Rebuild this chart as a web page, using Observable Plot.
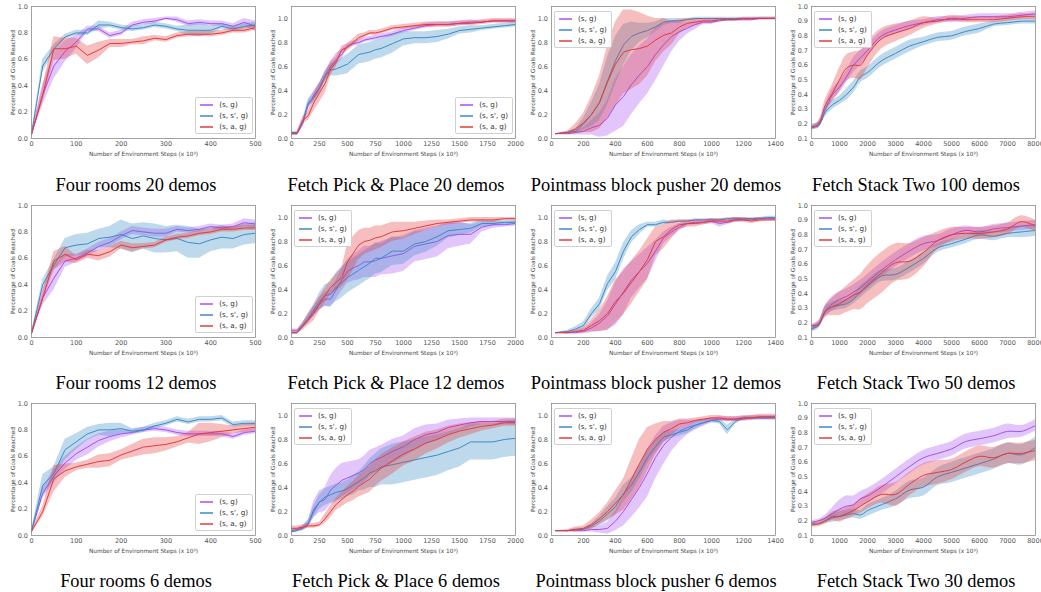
<!DOCTYPE html>
<html><head><meta charset="utf-8">
<script src="https://cdn.jsdelivr.net/npm/d3@7"></script>
<script src="https://cdn.jsdelivr.net/npm/@observablehq/plot@0.6"></script>
<style>
body{margin:0;background:#fff;}
#fig{position:relative;width:1041px;height:592px;overflow:hidden;background:#fff;}
.panel{position:absolute;width:260px;height:160px;}
.panel > svg{overflow:visible;}
.cap{position:absolute;width:300px;text-align:center;font-family:"Liberation Serif","Times New Roman",serif;font-size:18.4px;line-height:20px;color:#000;}
.legend{position:absolute;background:rgba(255,255,255,0.85);border:0.8px solid #d0d0d0;border-radius:2px;padding:1px 4px;font-family:"DejaVu Sans",sans-serif;font-size:7.2px;color:#333;}
.legend div{height:11px;line-height:11px;white-space:nowrap;display:flex;align-items:center;}
.legend svg.sw{display:block;width:13px;height:4px;margin-right:6px;overflow:visible;}
</style></head>
<body><div id="fig"></div>
<script>
// ---------- shared categories / ticks ----------
const seriesNames = ["(s, g)", "(s, s', g)", "(s, a, g)"];
const xLabel = "Number of Environment Steps (x 10\u00b3)";
const yLabel = "Percentage of Goals Reached";

const fourRoomsX = [0,25,50,75,100,125,150,175,200,225,250,275,300,325,350,375,400,425,450,475,500];
const fetchPPX = [0,50,100,150,200,250,300,350,400,450,500,550,600,650,700,750,800,900,1000,1100,1200,1300,1400,1500,1600,1700,1800,1900,2000];
const pointmassX = [25,100,150,200,250,300,350,400,450,500,550,600,650,700,750,800,850,900,950,1000,1050,1100,1150,1200,1250,1300,1350,1400];
const fetchStackX = [0,250,500,750,1000,1250,1500,1750,2000,2500,3000,3500,4000,4500,5000,5500,6000,6500,7000,7500,8000];

const fourRoomsXTicks = [0,100,200,300,400,500];
const fetchPPXTicks = [0,250,500,750,1000,1250,1500,1750,2000];
const pointmassXTicks = [0,200,400,600,800,1000,1200,1400];
const fetchStackXTicks = [0,1000,2000,3000,4000,5000,6000,7000,8000];
const yTicks01 = [0,0.2,0.4,0.6,0.8,1.0];
const yTicksStack = [0.1,0.2,0.3,0.4,0.5,0.6,0.7,0.8,0.9,1.0];

// ---------- Four rooms 20 demos ----------
const fourRooms20_sg    = [0.03,0.33,0.55,0.66,0.73,0.83,0.83,0.78,0.80,0.86,0.88,0.89,0.91,0.90,0.87,0.88,0.87,0.87,0.85,0.88,0.85];
const fourRooms20_sg_sd = [0.01,0.08,0.10,0.08,0.05,0.02,0.02,0.02,0.02,0.02,0.02,0.02,0.01,0.02,0.02,0.02,0.02,0.02,0.02,0.03,0.04];
const fourRooms20_ssg    = [0.03,0.55,0.68,0.77,0.80,0.80,0.86,0.86,0.84,0.83,0.84,0.86,0.85,0.83,0.82,0.82,0.82,0.85,0.83,0.85,0.86];
const fourRooms20_ssg_sd = [0.01,0.05,0.03,0.02,0.02,0.02,0.03,0.02,0.02,0.02,0.02,0.02,0.02,0.02,0.04,0.05,0.03,0.02,0.02,0.02,0.02];
const fourRooms20_sag    = [0.03,0.33,0.68,0.68,0.70,0.63,0.67,0.72,0.72,0.73,0.74,0.76,0.75,0.78,0.79,0.79,0.79,0.80,0.82,0.82,0.84];
const fourRooms20_sag_sd = [0.01,0.06,0.09,0.08,0.06,0.07,0.06,0.03,0.03,0.02,0.03,0.02,0.02,0.02,0.02,0.02,0.02,0.02,0.02,0.02,0.02];

// ---------- Fetch Pick & Place 20 demos ----------
const fetchPP20_sg    = [0.04,0.04,0.12,0.28,0.36,0.42,0.52,0.60,0.66,0.70,0.77,0.79,0.80,0.82,0.83,0.84,0.85,0.87,0.90,0.92,0.94,0.95,0.95,0.96,0.97,0.97,0.98,0.98,0.98];
const fetchPP20_sg_sd = [0.01,0.01,0.02,0.03,0.04,0.04,0.04,0.04,0.05,0.04,0.02,0.02,0.02,0.02,0.02,0.02,0.02,0.02,0.02,0.02,0.02,0.02,0.02,0.02,0.02,0.01,0.01,0.01,0.01];
const fetchPP20_ssg    = [0.05,0.05,0.14,0.30,0.34,0.42,0.52,0.57,0.58,0.60,0.62,0.66,0.70,0.71,0.72,0.74,0.75,0.79,0.83,0.84,0.84,0.85,0.87,0.90,0.91,0.92,0.93,0.94,0.95];
const fetchPP20_ssg_sd = [0.01,0.01,0.02,0.03,0.04,0.04,0.04,0.05,0.06,0.07,0.08,0.08,0.08,0.08,0.08,0.08,0.08,0.08,0.06,0.05,0.05,0.05,0.04,0.03,0.03,0.02,0.02,0.02,0.02];
const fetchPP20_sag    = [0.04,0.04,0.15,0.19,0.30,0.38,0.46,0.58,0.64,0.74,0.76,0.80,0.84,0.86,0.88,0.88,0.89,0.92,0.93,0.94,0.95,0.95,0.95,0.96,0.96,0.97,0.98,0.98,0.98];
const fetchPP20_sag_sd = [0.01,0.01,0.03,0.04,0.07,0.08,0.08,0.06,0.04,0.03,0.03,0.03,0.03,0.02,0.02,0.02,0.02,0.02,0.02,0.02,0.02,0.02,0.02,0.02,0.02,0.02,0.02,0.02,0.02];

// ---------- Pointmass block pusher 20 demos ----------
const pointmass20_sg    = [0.04,0.04,0.05,0.06,0.09,0.11,0.17,0.28,0.35,0.45,0.53,0.60,0.70,0.78,0.85,0.89,0.92,0.95,0.97,0.97,0.98,0.99,0.99,0.99,0.99,1.00,1.00,1.00];
const pointmass20_sg_sd = [0.00,0.01,0.02,0.03,0.06,0.10,0.15,0.22,0.25,0.25,0.24,0.23,0.22,0.18,0.13,0.08,0.05,0.04,0.02,0.02,0.01,0.01,0.01,0.01,0.01,0.01,0.01,0.01];
const pointmass20_ssg    = [0.04,0.05,0.06,0.12,0.20,0.30,0.48,0.65,0.78,0.85,0.88,0.90,0.93,0.97,0.98,0.98,0.99,1.00,1.00,1.00,1.00,1.00,1.00,1.00,1.00,1.00,1.00,1.00];
const pointmass20_ssg_sd = [0.00,0.01,0.02,0.05,0.10,0.15,0.20,0.20,0.17,0.12,0.08,0.06,0.04,0.03,0.02,0.02,0.01,0.01,0.01,0.01,0.01,0.01,0.01,0.01,0.01,0.01,0.01,0.01];
const pointmass20_sag    = [0.04,0.05,0.08,0.13,0.20,0.30,0.47,0.62,0.72,0.74,0.75,0.77,0.82,0.86,0.88,0.93,0.96,0.97,0.98,0.98,0.99,0.99,0.99,1.00,1.00,1.00,1.00,1.00];
const pointmass20_sag_sd = [0.00,0.01,0.04,0.08,0.15,0.22,0.30,0.35,0.35,0.33,0.30,0.25,0.18,0.14,0.10,0.06,0.04,0.03,0.02,0.02,0.01,0.01,0.01,0.01,0.01,0.01,0.01,0.01];

// ---------- Fetch Stack Two 100 demos ----------
const fetchStack100_sg    = [0.18,0.19,0.30,0.40,0.45,0.52,0.60,0.65,0.70,0.80,0.84,0.87,0.89,0.91,0.91,0.92,0.93,0.93,0.93,0.94,0.95];
const fetchStack100_sg_sd = [0.01,0.02,0.03,0.04,0.04,0.04,0.05,0.05,0.04,0.03,0.03,0.03,0.02,0.02,0.02,0.02,0.02,0.02,0.02,0.02,0.02];
const fetchStack100_ssg    = [0.18,0.19,0.28,0.33,0.36,0.40,0.45,0.52,0.55,0.63,0.68,0.73,0.76,0.79,0.80,0.83,0.85,0.88,0.89,0.90,0.90];
const fetchStack100_ssg_sd = [0.02,0.02,0.03,0.03,0.03,0.04,0.04,0.04,0.04,0.04,0.04,0.04,0.03,0.03,0.03,0.03,0.03,0.02,0.02,0.02,0.02];
const fetchStack100_sag    = [0.17,0.20,0.33,0.41,0.50,0.58,0.60,0.60,0.67,0.78,0.82,0.85,0.89,0.90,0.92,0.91,0.91,0.91,0.92,0.93,0.93];
const fetchStack100_sag_sd = [0.01,0.02,0.04,0.06,0.08,0.09,0.09,0.10,0.09,0.07,0.06,0.05,0.04,0.02,0.02,0.02,0.02,0.02,0.02,0.02,0.02];

// ---------- Four rooms 12 demos ----------
const fourRooms12_sg    = [0.03,0.30,0.45,0.58,0.60,0.64,0.69,0.72,0.77,0.81,0.80,0.79,0.79,0.82,0.81,0.82,0.84,0.83,0.84,0.87,0.86];
const fourRooms12_sg_sd = [0.01,0.06,0.09,0.05,0.03,0.03,0.03,0.03,0.03,0.03,0.03,0.03,0.03,0.02,0.02,0.02,0.02,0.02,0.02,0.03,0.03];
const fourRooms12_ssg    = [0.03,0.40,0.55,0.68,0.70,0.71,0.75,0.76,0.78,0.75,0.77,0.75,0.74,0.75,0.72,0.71,0.74,0.76,0.75,0.78,0.79];
const fourRooms12_ssg_sd = [0.01,0.04,0.04,0.07,0.08,0.08,0.07,0.08,0.11,0.11,0.10,0.11,0.10,0.10,0.12,0.11,0.09,0.09,0.08,0.08,0.08];
const fourRooms12_sag    = [0.03,0.30,0.58,0.63,0.59,0.63,0.62,0.65,0.70,0.68,0.69,0.70,0.74,0.76,0.77,0.79,0.80,0.82,0.82,0.83,0.83];
const fourRooms12_sag_sd = [0.01,0.04,0.07,0.06,0.03,0.03,0.04,0.04,0.03,0.03,0.02,0.02,0.02,0.02,0.02,0.02,0.02,0.02,0.02,0.02,0.02];

// ---------- Fetch Pick & Place 12 demos ----------
const fetchPP12_sg    = [0.06,0.06,0.10,0.15,0.22,0.28,0.32,0.32,0.40,0.48,0.55,0.58,0.60,0.63,0.63,0.64,0.66,0.68,0.70,0.76,0.78,0.80,0.85,0.86,0.86,0.92,0.94,0.94,0.95];
const fetchPP12_sg_sd = [0.01,0.01,0.02,0.03,0.04,0.05,0.06,0.07,0.08,0.09,0.10,0.11,0.12,0.13,0.13,0.14,0.14,0.15,0.15,0.13,0.13,0.13,0.11,0.10,0.08,0.04,0.03,0.02,0.02];
const fetchPP12_ssg    = [0.04,0.04,0.10,0.16,0.23,0.30,0.35,0.36,0.42,0.46,0.50,0.53,0.56,0.59,0.62,0.66,0.66,0.72,0.72,0.78,0.80,0.84,0.89,0.90,0.91,0.95,0.95,0.96,0.96];
const fetchPP12_ssg_sd = [0.01,0.01,0.02,0.04,0.05,0.07,0.09,0.10,0.12,0.13,0.13,0.13,0.13,0.13,0.13,0.13,0.12,0.12,0.11,0.10,0.09,0.08,0.06,0.05,0.04,0.03,0.02,0.02,0.02];
const fetchPP12_sag    = [0.04,0.04,0.09,0.15,0.20,0.28,0.35,0.42,0.46,0.50,0.63,0.70,0.77,0.80,0.81,0.83,0.84,0.88,0.89,0.91,0.93,0.95,0.96,0.97,0.98,0.98,0.98,0.99,0.99];
const fetchPP12_sag_sd = [0.01,0.01,0.03,0.05,0.06,0.06,0.06,0.06,0.07,0.08,0.15,0.14,0.12,0.11,0.10,0.10,0.09,0.08,0.07,0.05,0.04,0.03,0.02,0.02,0.02,0.02,0.02,0.01,0.01];

// ---------- Pointmass block pusher 12 demos ----------
const pointmass12_sg    = [0.04,0.04,0.04,0.05,0.08,0.12,0.18,0.28,0.38,0.48,0.55,0.62,0.72,0.83,0.88,0.92,0.95,0.96,0.96,0.97,0.95,0.96,0.98,0.98,0.98,0.99,0.99,0.99];
const pointmass12_sg_sd = [0.00,0.01,0.01,0.02,0.04,0.07,0.12,0.18,0.19,0.15,0.14,0.13,0.09,0.05,0.04,0.03,0.02,0.02,0.02,0.02,0.03,0.02,0.02,0.01,0.01,0.01,0.01,0.01];
const pointmass12_ssg    = [0.04,0.05,0.07,0.10,0.20,0.28,0.45,0.55,0.72,0.84,0.90,0.94,0.94,0.96,0.96,0.97,0.97,0.98,0.98,0.98,0.98,0.99,0.99,0.99,0.99,0.99,1.00,1.00];
const pointmass12_ssg_sd = [0.00,0.01,0.02,0.03,0.04,0.05,0.06,0.07,0.07,0.05,0.04,0.02,0.02,0.02,0.01,0.01,0.01,0.01,0.01,0.01,0.01,0.01,0.01,0.01,0.01,0.01,0.01,0.01];
const pointmass12_sag    = [0.04,0.04,0.05,0.06,0.10,0.14,0.20,0.30,0.37,0.46,0.55,0.65,0.80,0.84,0.90,0.94,0.95,0.95,0.96,0.97,0.97,0.97,0.98,0.98,0.97,0.98,0.98,0.98];
const pointmass12_sag_sd = [0.00,0.01,0.01,0.02,0.05,0.09,0.14,0.18,0.18,0.18,0.17,0.17,0.12,0.10,0.08,0.04,0.03,0.03,0.02,0.02,0.02,0.02,0.02,0.02,0.02,0.02,0.01,0.01];

// ---------- Fetch Stack Two 50 demos ----------
const fetchStack50_sg    = [0.16,0.19,0.28,0.33,0.36,0.38,0.41,0.44,0.48,0.56,0.63,0.69,0.74,0.76,0.80,0.83,0.82,0.84,0.85,0.86,0.87];
const fetchStack50_sg_sd = [0.02,0.02,0.04,0.05,0.05,0.05,0.05,0.05,0.05,0.05,0.05,0.05,0.05,0.04,0.04,0.03,0.03,0.03,0.03,0.03,0.03];
const fetchStack50_ssg    = [0.16,0.18,0.28,0.31,0.32,0.33,0.36,0.41,0.45,0.52,0.53,0.58,0.64,0.71,0.74,0.77,0.80,0.79,0.81,0.82,0.83];
const fetchStack50_ssg_sd = [0.02,0.02,0.03,0.03,0.03,0.03,0.03,0.04,0.04,0.04,0.04,0.04,0.04,0.03,0.03,0.03,0.03,0.03,0.03,0.04,0.04];
const fetchStack50_sag    = [0.18,0.19,0.28,0.31,0.33,0.36,0.39,0.41,0.46,0.54,0.61,0.62,0.68,0.76,0.80,0.81,0.81,0.82,0.84,0.89,0.86];
const fetchStack50_sag_sd = [0.01,0.02,0.04,0.06,0.08,0.09,0.10,0.12,0.13,0.14,0.13,0.12,0.10,0.06,0.05,0.04,0.04,0.04,0.04,0.04,0.04];

// ---------- Four rooms 6 demos ----------
const fourRooms6_sg    = [0.03,0.32,0.45,0.55,0.62,0.67,0.72,0.75,0.77,0.78,0.80,0.81,0.80,0.78,0.77,0.77,0.77,0.77,0.75,0.78,0.79];
const fourRooms6_sg_sd = [0.01,0.04,0.05,0.05,0.05,0.06,0.05,0.04,0.03,0.02,0.02,0.02,0.02,0.02,0.02,0.02,0.02,0.02,0.02,0.02,0.02];
const fourRooms6_ssg    = [0.03,0.38,0.47,0.65,0.71,0.77,0.80,0.80,0.81,0.79,0.80,0.83,0.85,0.88,0.86,0.88,0.88,0.89,0.84,0.85,0.85];
const fourRooms6_ssg_sd = [0.01,0.08,0.05,0.08,0.06,0.05,0.04,0.05,0.04,0.02,0.02,0.02,0.02,0.02,0.02,0.02,0.02,0.02,0.02,0.02,0.02];
const fourRooms6_sag    = [0.03,0.18,0.43,0.49,0.52,0.54,0.56,0.57,0.61,0.64,0.67,0.68,0.69,0.71,0.74,0.77,0.78,0.79,0.80,0.81,0.82];
const fourRooms6_sag_sd = [0.01,0.04,0.10,0.05,0.03,0.03,0.05,0.05,0.04,0.05,0.06,0.06,0.05,0.04,0.04,0.08,0.07,0.05,0.03,0.03,0.03];

// ---------- Fetch Pick & Place 6 demos ----------
const fetchPP6_sg    = [0.04,0.05,0.06,0.10,0.22,0.28,0.30,0.38,0.42,0.46,0.48,0.50,0.52,0.55,0.60,0.63,0.65,0.70,0.74,0.80,0.84,0.86,0.90,0.92,0.94,0.95,0.95,0.95,0.95];
const fetchPP6_sg_sd = [0.01,0.01,0.02,0.03,0.07,0.09,0.10,0.12,0.14,0.14,0.13,0.12,0.11,0.11,0.11,0.10,0.10,0.10,0.09,0.09,0.08,0.07,0.06,0.05,0.04,0.03,0.03,0.03,0.03];
const fetchPP6_ssg    = [0.03,0.04,0.06,0.10,0.20,0.28,0.32,0.34,0.36,0.37,0.39,0.42,0.45,0.48,0.52,0.54,0.57,0.59,0.61,0.63,0.65,0.67,0.70,0.73,0.78,0.78,0.78,0.80,0.81];
const fetchPP6_ssg_sd = [0.01,0.01,0.02,0.03,0.05,0.06,0.07,0.07,0.07,0.07,0.07,0.08,0.08,0.10,0.12,0.14,0.15,0.17,0.17,0.17,0.17,0.17,0.16,0.16,0.15,0.15,0.15,0.15,0.15];
const fetchPP6_sag    = [0.06,0.06,0.07,0.08,0.08,0.09,0.14,0.20,0.26,0.30,0.34,0.37,0.41,0.44,0.47,0.52,0.56,0.62,0.68,0.72,0.77,0.80,0.84,0.87,0.89,0.91,0.92,0.94,0.94];
const fetchPP6_sag_sd = [0.02,0.02,0.02,0.02,0.02,0.02,0.04,0.05,0.05,0.06,0.07,0.08,0.09,0.10,0.11,0.11,0.11,0.11,0.10,0.10,0.09,0.08,0.07,0.06,0.05,0.04,0.03,0.03,0.03];

// ---------- Pointmass block pusher 6 demos ----------
const pointmass6_sg    = [0.04,0.04,0.04,0.04,0.05,0.05,0.06,0.12,0.20,0.30,0.40,0.52,0.65,0.75,0.82,0.87,0.90,0.92,0.94,0.96,0.97,0.97,0.97,0.97,0.98,0.98,0.98,0.98];
const pointmass6_sg_sd = [0.00,0.00,0.01,0.01,0.02,0.03,0.05,0.08,0.12,0.15,0.17,0.20,0.18,0.16,0.12,0.09,0.06,0.04,0.03,0.02,0.02,0.02,0.02,0.02,0.02,0.02,0.02,0.02];
const pointmass6_ssg    = [0.04,0.04,0.05,0.05,0.08,0.12,0.18,0.24,0.35,0.42,0.53,0.65,0.74,0.82,0.84,0.86,0.88,0.92,0.94,0.96,0.95,0.88,0.95,0.98,0.98,0.98,0.98,0.98];
const pointmass6_ssg_sd = [0.00,0.00,0.01,0.01,0.02,0.04,0.06,0.07,0.07,0.06,0.06,0.05,0.05,0.04,0.03,0.03,0.03,0.03,0.02,0.02,0.02,0.04,0.02,0.01,0.01,0.01,0.01,0.01];
const pointmass6_sag    = [0.04,0.04,0.05,0.06,0.09,0.14,0.20,0.27,0.34,0.47,0.60,0.72,0.80,0.86,0.89,0.93,0.94,0.96,0.97,0.98,0.98,0.97,0.97,0.98,0.98,0.99,0.99,0.99];
const pointmass6_sag_sd = [0.00,0.01,0.02,0.02,0.04,0.05,0.07,0.10,0.13,0.17,0.20,0.18,0.13,0.09,0.06,0.04,0.03,0.02,0.02,0.02,0.02,0.02,0.02,0.02,0.02,0.02,0.02,0.02];

// ---------- Fetch Stack Two 30 demos ----------
const fetchStack30_sg    = [0.19,0.20,0.22,0.25,0.28,0.30,0.31,0.35,0.37,0.43,0.50,0.57,0.63,0.66,0.69,0.74,0.76,0.78,0.81,0.81,0.85];
const fetchStack30_sg_sd = [0.01,0.01,0.02,0.04,0.06,0.07,0.06,0.05,0.05,0.05,0.05,0.05,0.05,0.05,0.05,0.05,0.05,0.05,0.05,0.04,0.04];
const fetchStack30_ssg    = [0.18,0.18,0.20,0.22,0.23,0.24,0.25,0.24,0.27,0.31,0.35,0.41,0.43,0.50,0.53,0.56,0.59,0.62,0.66,0.65,0.70];
const fetchStack30_ssg_sd = [0.01,0.01,0.02,0.03,0.03,0.03,0.03,0.03,0.04,0.04,0.05,0.06,0.06,0.06,0.07,0.07,0.07,0.07,0.07,0.07,0.07];
const fetchStack30_sag    = [0.17,0.18,0.20,0.23,0.23,0.25,0.27,0.30,0.33,0.38,0.38,0.45,0.51,0.53,0.55,0.60,0.64,0.63,0.66,0.66,0.68];
const fetchStack30_sag_sd = [0.01,0.02,0.02,0.03,0.04,0.04,0.04,0.05,0.05,0.06,0.08,0.08,0.08,0.08,0.07,0.07,0.07,0.07,0.07,0.07,0.07];

// ---------- styling ----------
const seriesColors = ["#a550f2", "#3c8bc6", "#e33b3d"];

const envs = {
  fourRooms:  {x: fourRoomsX,  xDomain: [0,500],  xTicks: fourRoomsXTicks,  yDomain: [0,1.0], yTicks: yTicks01,   curve: "linear"},
  fetchPP:    {x: fetchPPX,    xDomain: [0,2000], xTicks: fetchPPXTicks,    yDomain: [0,1.1], yTicks: yTicks01,   curve: "linear"},
  pointmass:  {x: pointmassX,  xDomain: [0,1400], xTicks: pointmassXTicks,  yDomain: [0,1.1], yTicks: yTicks01,   curve: "linear"},
  fetchStack: {x: fetchStackX, xDomain: [0,8000], xTicks: fetchStackXTicks, yDomain: [0.1,1.0], yTicks: yTicksStack, curve: "catmull-rom"}
};

const panels = [
  {title: "Four rooms 20 demos", env: "fourRooms", legend: "br", series: [[fourRooms20_sg,fourRooms20_sg_sd],[fourRooms20_ssg,fourRooms20_ssg_sd],[fourRooms20_sag,fourRooms20_sag_sd]]},
  {title: "Fetch Pick & Place 20 demos", env: "fetchPP", legend: "br", series: [[fetchPP20_sg,fetchPP20_sg_sd],[fetchPP20_ssg,fetchPP20_ssg_sd],[fetchPP20_sag,fetchPP20_sag_sd]]},
  {title: "Pointmass block pusher 20 demos", env: "pointmass", legend: "tl", series: [[pointmass20_sg,pointmass20_sg_sd],[pointmass20_ssg,pointmass20_ssg_sd],[pointmass20_sag,pointmass20_sag_sd]]},
  {title: "Fetch Stack Two 100 demos", env: "fetchStack", legend: "tl", series: [[fetchStack100_sg,fetchStack100_sg_sd],[fetchStack100_ssg,fetchStack100_ssg_sd],[fetchStack100_sag,fetchStack100_sag_sd]]},
  {title: "Four rooms 12 demos", env: "fourRooms", legend: "br", series: [[fourRooms12_sg,fourRooms12_sg_sd],[fourRooms12_ssg,fourRooms12_ssg_sd],[fourRooms12_sag,fourRooms12_sag_sd]]},
  {title: "Fetch Pick & Place 12 demos", env: "fetchPP", legend: "tl", series: [[fetchPP12_sg,fetchPP12_sg_sd],[fetchPP12_ssg,fetchPP12_ssg_sd],[fetchPP12_sag,fetchPP12_sag_sd]]},
  {title: "Pointmass block pusher 12 demos", env: "pointmass", legend: "tl", series: [[pointmass12_sg,pointmass12_sg_sd],[pointmass12_ssg,pointmass12_ssg_sd],[pointmass12_sag,pointmass12_sag_sd]]},
  {title: "Fetch Stack Two 50 demos", env: "fetchStack", legend: "tl", series: [[fetchStack50_sg,fetchStack50_sg_sd],[fetchStack50_ssg,fetchStack50_ssg_sd],[fetchStack50_sag,fetchStack50_sag_sd]]},
  {title: "Four rooms 6 demos", env: "fourRooms", legend: "br", series: [[fourRooms6_sg,fourRooms6_sg_sd],[fourRooms6_ssg,fourRooms6_ssg_sd],[fourRooms6_sag,fourRooms6_sag_sd]]},
  {title: "Fetch Pick & Place 6 demos", env: "fetchPP", legend: "tl", series: [[fetchPP6_sg,fetchPP6_sg_sd],[fetchPP6_ssg,fetchPP6_ssg_sd],[fetchPP6_sag,fetchPP6_sag_sd]]},
  {title: "Pointmass block pusher 6 demos", env: "pointmass", legend: "tl", series: [[pointmass6_sg,pointmass6_sg_sd],[pointmass6_ssg,pointmass6_ssg_sd],[pointmass6_sag,pointmass6_sag_sd]]},
  {title: "Fetch Stack Two 30 demos", env: "fetchStack", legend: "tl", series: [[fetchStack30_sg,fetchStack30_sg_sd],[fetchStack30_ssg,fetchStack30_ssg_sd],[fetchStack30_sag,fetchStack30_sag_sd]]}
];

const fig = document.getElementById("fig");
const rowTops = [0, 199, 397];
const capTops = [175, 373, 571];
const NS = "http://www.w3.org/2000/svg";

panels.forEach((p, idx) => {
  const r = Math.floor(idx / 4), c = idx % 4;
  const e = envs[p.env];
  const marks = [];
  p.series.forEach(([m, sd], k) => {
    const rows = e.x.map((x, i) => ({x, m: m[i], lo: m[i] - sd[i], hi: m[i] + sd[i]}));
    marks.push(Plot.areaY(rows, {x: "x", y1: "lo", y2: "hi", fill: seriesColors[k], fillOpacity: 0.33, curve: e.curve, clip: true}));
    marks.push(Plot.lineY(rows, {x: "x", y: "m", stroke: seriesColors[k], strokeWidth: 1, curve: e.curve, clip: true}));
  });
  marks.push(Plot.axisX(e.xTicks, {tickSize: 0, tickPadding: 3, label: null, tickFormat: d => String(d), fontSize: 6.5}));
  marks.push(Plot.axisY(e.yTicks, {tickSize: 0, tickPadding: 3.5, label: null, tickFormat: d3.format(".1f"), fontSize: 6.5}));
  marks.push(Plot.text([xLabel], {frameAnchor: "bottom", dy: 16, text: d => d, fontSize: 5.8, fill: "#444", textAnchor: "middle", lineAnchor: "middle"}));
  marks.push(Plot.text([yLabel], {frameAnchor: "left", dx: -18, rotate: -90, text: d => d, fontSize: 5.8, fill: "#444", textAnchor: "middle", lineAnchor: "middle"}));
  marks.push(Plot.frame({stroke: "#8c8c8c", strokeWidth: 0.8}));

  const svg = Plot.plot({
    width: 260, height: 160,
    marginLeft: 31, marginRight: 5, marginTop: 6, marginBottom: 22,
    x: {domain: e.xDomain},
    y: {domain: e.yDomain},
    style: {fontFamily: "DejaVu Sans, sans-serif", color: "#555", background: "transparent", fontSize: "6.5px", overflow: "visible"},
    marks
  });

  const div = document.createElement("div");
  div.className = "panel";
  div.style.left = (c * 260) + "px";
  div.style.top = rowTops[r] + "px";
  div.appendChild(svg);

  const lg = document.createElement("div");
  lg.className = "legend";
  if (p.legend === "tl") { lg.style.left = "34px"; lg.style.top = "11px"; }
  else { lg.style.right = "7px"; lg.style.bottom = "26px"; }
  seriesNames.forEach((name, k) => {
    const row = document.createElement("div");
    const sw = document.createElementNS(NS, "svg");
    sw.setAttribute("class", "sw");
    sw.setAttribute("width", "13");
    sw.setAttribute("height", "4");
    const ln = document.createElementNS(NS, "line");
    ln.setAttribute("x1", "0"); ln.setAttribute("x2", "13");
    ln.setAttribute("y1", "2"); ln.setAttribute("y2", "2");
    ln.setAttribute("stroke", seriesColors[k]);
    ln.setAttribute("stroke-width", "1.5");
    sw.appendChild(ln);
    row.appendChild(sw);
    row.appendChild(document.createTextNode(name));
    lg.appendChild(row);
  });
  div.appendChild(lg);
  fig.appendChild(div);

  const cap = document.createElement("div");
  cap.className = "cap";
  cap.style.left = (c * 260 + 136 - 150) + "px";
  cap.style.top = capTops[r] + "px";
  cap.textContent = p.title;
  fig.appendChild(cap);
});
</script>
</body></html>
